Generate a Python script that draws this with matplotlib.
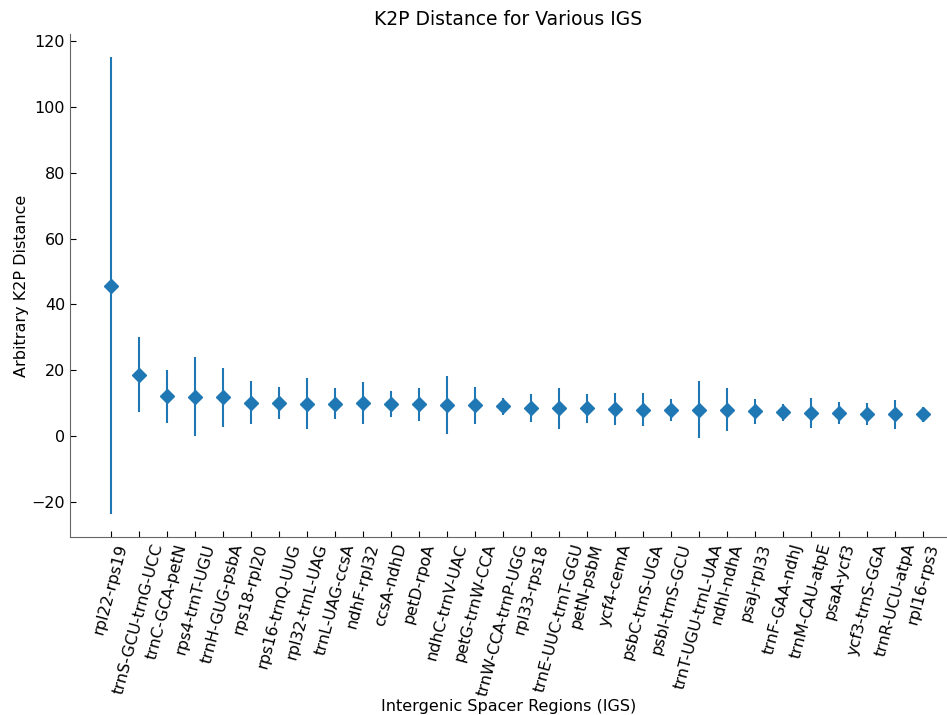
import matplotlib.pyplot as plt

# K2P distances per intergenic spacer, sorted by mean
regions = [
    "rpl22-rps19", "trnS-GCU-trnG-UCC", "trnC-GCA-petN", "rps4-trnT-UGU",
    "trnH-GUG-psbA", "rps18-rpl20", "rps16-trnQ-UUG", "rpl32-trnL-UAG",
    "trnL-UAG-ccsA", "ndhF-rpl32", "ccsA-ndhD", "petD-rpoA",
    "ndhC-trnV-UAC", "petG-trnW-CCA", "trnW-CCA-trnP-UGG", "rpl33-rps18",
    "trnE-UUC-trnT-GGU", "petN-psbM", "ycf4-cemA", "psbC-trnS-UGA",
    "psbI-trnS-GCU", "trnT-UGU-trnL-UAA", "ndhI-ndhA", "psaJ-rpl33",
    "trnF-GAA-ndhJ", "trnM-CAU-atpE", "psaA-ycf3", "ycf3-trnS-GGA",
    "trnR-UCU-atpA", "rpl16-rps3",
]
mean_dist = [
    45.7, 18.6, 12.1, 12.0, 11.8, 10.2, 10.0, 9.9, 9.9, 10.0,
    9.7, 9.6, 9.4, 9.3, 9.0, 8.5, 8.4, 8.4, 8.2, 8.0,
    8.0, 8.0, 8.0, 7.5, 7.3, 7.1, 7.0, 6.8, 6.6, 6.6,
]
std_dist = [
    69.4, 11.4, 8.0, 12.0, 9.0, 6.4, 4.9, 7.6, 4.7, 6.4,
    4.0, 4.9, 8.9, 5.5, 2.7, 4.3, 6.2, 4.3, 4.8, 5.0,
    3.4, 8.7, 6.5, 3.7, 2.6, 4.5, 3.3, 3.3, 4.3, 2.3,
]

fig = plt.figure(figsize=(9.47, 7.15), dpi=100)
ax = fig.add_axes([0.074, 0.249, 0.926, 0.703])

x = list(range(len(regions)))
ax.errorbar(x, mean_dist, yerr=std_dist, fmt='D', color='#1f77b4',
            markersize=7, elinewidth=1.5)

ax.set_xlim(-1.45, 29.85)
ax.set_xticks(x)
ax.set_xticklabels(regions, rotation=75, fontsize=11.5)
ax.tick_params(axis='both', direction='in', labelsize=11.5, length=4)

for side in ['top', 'right']:
    ax.spines[side].set_visible(False)
for side in ['left', 'bottom']:
    ax.spines[side].set_color('#666666')

ax.set_title("K2P Distance for Various IGS", fontsize=13.5, pad=7)
ax.set_xlabel("Intergenic Spacer Regions (IGS)", fontsize=11.5, labelpad=1)
ax.set_ylabel("Arbitrary K2P Distance", fontsize=11.5, labelpad=2)

fig.savefig("out.png", dpi=100)
